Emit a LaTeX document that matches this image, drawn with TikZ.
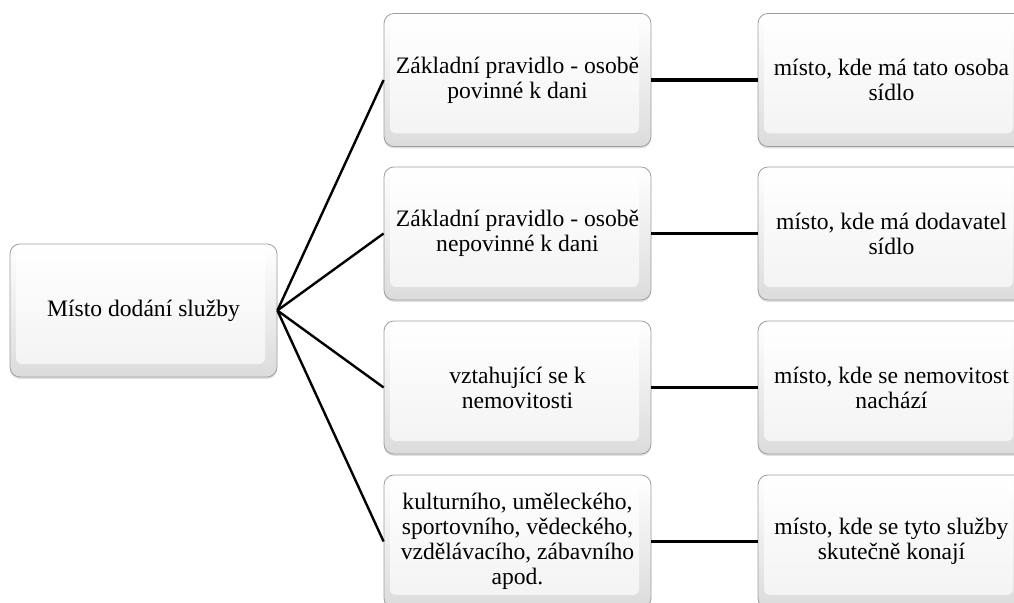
\documentclass[tikz,border=0pt]{standalone}
\usepackage{fontspec}
\IfFontExistsTF{LiberationSerif-Regular.ttf}
  {\setmainfont{LiberationSerif-Regular.ttf}}
  {\setmainfont{Liberation Serif}}
\usetikzlibrary{shadows}

\tikzset{
  bevelbox/.style={rounded corners=5pt, draw=black!38, line width=0.4pt,
    top color=white, bottom color=black!14,
    minimum width=133.5pt, minimum height=66.5pt, align=center,
    font=\fontsize{11.8pt}{12.5pt}\selectfont,
    drop shadow={shadow xshift=0pt, shadow yshift=-1pt, opacity=0.25},
    path picture={\shade[top color=white, bottom color=black!5, rounded corners=3pt]
      ([shift={(3pt,-1.5pt)}]path picture bounding box.north west) rectangle
      ([shift={(-6pt,6.5pt)}]path picture bounding box.south east);}},
  link/.style={line width=1.2pt, black},
  pairlink/.style={line width=1.6pt, black}
}

\begin{document}
\begin{tikzpicture}[x=0.5pt, y=0.5pt]
		\useasboundingbox (0, 0) rectangle (1014, 603);
		\clip (0, 0) rectangle (1014, 603);

		% source
		\node [bevelbox] (misto) at (143.5, 292.5) {M\'{i}sto dod\'{a}n\'{i} slu\v{z}by};

		% middle column
		\node [bevelbox] (povinne) at (517.5, 523)
		{Z\'{a}kladn\'{i} pravidlo - osob\v{e}\\ povinn\'{e} k dani};
		\node [bevelbox] (nepovinne) at (517.5, 369.5)
		{Z\'{a}kladn\'{i} pravidlo - osob\v{e}\\ nepovinn\'{e} k dani};
		\node [bevelbox] (nemovitost) at (517.5, 215.5)
		{vztahuj\'{i}c\'{i} se k\\ nemovitosti};
		\node [bevelbox] (kultura) at (517.5, 61.5)
		{kulturn\'{i}ho, um\v{e}leck\'{e}ho,\\ sportovn\'{i}ho, v\v{e}deck\'{e}ho,\\
		vzd\v{e}l\'{a}vac\'{i}ho, z\'{a}bavn\'{i}ho\\ apod.};

		% right column
		\node [bevelbox] (sidloosoby) at (891.5, 523)
		{m\'{i}sto, kde m\'{a} tato osoba\\ s\'{i}dlo};
		\node [bevelbox] (sidlodod) at (891.5, 369.5)
		{m\'{i}sto, kde m\'{a} dodavatel\\ s\'{i}dlo};
		\node [bevelbox] (nachazi) at (891.5, 215.5)
		{m\'{i}sto, kde se nemovitost\\ nach\'{a}z\'{i}};
		\node [bevelbox] (konaji) at (891.5, 61.5)
		{m\'{i}sto, kde se tyto slu\v{z}by\\ skute\v{c}n\v{e} konaj\'{i}};

		% connectors
		\draw [link] (misto.east) -- (povinne.west);
		\draw [link] (misto.east) -- (nepovinne.west);
		\draw [link] (misto.east) -- (nemovitost.west);
		\draw [link] (misto.east) -- (kultura.west);

		\draw [pairlink] (povinne) -- (sidloosoby);
		\draw [pairlink] (nepovinne) -- (sidlodod);
		\draw [pairlink] (nemovitost) -- (nachazi);
		\draw [pairlink] (kultura) -- (konaji);
\end{tikzpicture}
\end{document}
